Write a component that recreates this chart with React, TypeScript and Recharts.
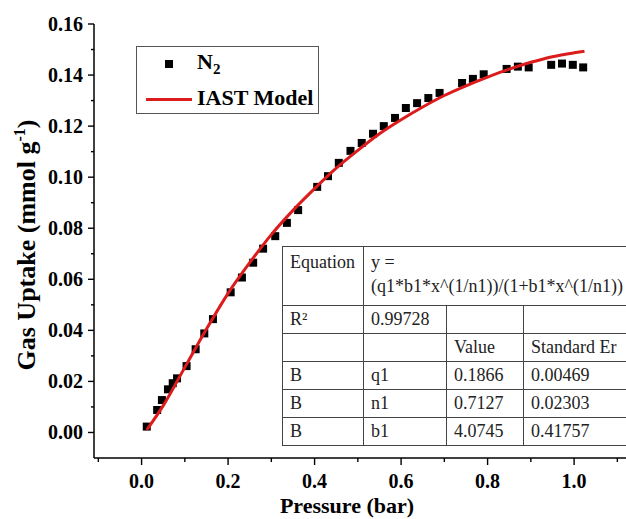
import { ScatterChart, Scatter, XAxis, YAxis, Label } from 'recharts'

// N2 isotherm points (pressure in bar, uptake in mmol/g)
const pressure = [
  0.012, 0.036, 0.047, 0.061, 0.072, 0.082, 0.104, 0.125, 0.145, 0.165,
  0.206, 0.232, 0.258, 0.281, 0.309, 0.336, 0.362, 0.406, 0.431, 0.456,
  0.483, 0.509, 0.535, 0.56, 0.586, 0.611, 0.637, 0.663, 0.689, 0.741,
  0.766, 0.791, 0.844, 0.87, 0.895, 0.947, 0.972, 0.997, 1.021,
]
const uptake = [
  0.0023, 0.0088, 0.0127, 0.0169, 0.0193, 0.0212, 0.026, 0.0326, 0.0388, 0.0444,
  0.0549, 0.0607, 0.0665, 0.072, 0.0769, 0.0821, 0.0871, 0.0962, 0.1004, 0.1056,
  0.1103, 0.1134, 0.117, 0.12, 0.1232, 0.1271, 0.129, 0.131, 0.133, 0.1369,
  0.1385, 0.1403, 0.1424, 0.1433, 0.143, 0.144, 0.1445, 0.144, 0.143,
]

// IAST model curve
const modelPressure = [
  0.012, 0.05, 0.1, 0.15, 0.2, 0.25, 0.3, 0.35, 0.4, 0.45, 0.5, 0.55,
  0.6, 0.65, 0.7, 0.75, 0.8, 0.85, 0.9, 0.95, 1.0, 1.024,
]
const modelUptake = [
  0.001, 0.0105, 0.0255, 0.0405, 0.0545, 0.0665, 0.0775, 0.087, 0.0955, 0.1035, 0.1105, 0.117,
  0.1225, 0.1275, 0.132, 0.1358, 0.1392, 0.1423, 0.145, 0.1472, 0.1487, 0.1493,
]

const xTicks = [-0.1, 0, 0.1, 0.2, 0.3, 0.4, 0.5, 0.6, 0.7, 0.8, 0.9, 1.0, 1.1]
const xLabels = [0, 0.2, 0.4, 0.6, 0.8, 1.0]
const yTicks = [0, 0.01, 0.02, 0.03, 0.04, 0.05, 0.06, 0.07, 0.08, 0.09, 0.1, 0.11, 0.12, 0.13, 0.14, 0.15, 0.16]
const yLabels = [0, 0.02, 0.04, 0.06, 0.08, 0.1, 0.12, 0.14, 0.16]

const fitRows = [
  ['B', 'q1', '0.1866', '0.00469'],
  ['B', 'n1', '0.7127', '0.02303'],
  ['B', 'b1', '4.0745', '0.41757'],
]

const n2Data = pressure.map((p, i) => ({ x: p, y: uptake[i] }))
const modelData = modelPressure.map((p, i) => ({ x: p, y: modelUptake[i] }))

const serif = '"Liberation Serif", "Times New Roman", serif'
const isIn = (list: number[], v: number) => list.some((m) => Math.abs(m - v) < 1e-6)

function XTick({ x, y, payload }: any) {
  const major = isIn(xLabels, payload.value)
  return (
    <g>
      <line x1={x} x2={x} y1={y} y2={y + (major ? 7 : 4)} stroke="#000" strokeWidth={1.4} />
      {major && (
        <text x={x} y={y + 30} textAnchor="middle" fontFamily={serif} fontWeight="bold" fontSize={20} fill="#000">
          {payload.value.toFixed(1)}
        </text>
      )}
    </g>
  )
}

function YTick({ x, y, payload }: any) {
  const major = isIn(yLabels, payload.value)
  return (
    <g>
      <line x1={x} x2={x - (major ? 6 : 3)} y1={y} y2={y} stroke="#000" strokeWidth={1.4} />
      {major && (
        <text x={x - 11} y={y + 7} textAnchor="end" fontFamily={serif} fontWeight="bold" fontSize={20} fill="#000">
          {payload.value.toFixed(2)}
        </text>
      )}
    </g>
  )
}

const XTitle = () => (
  <text x={347} y={513} textAnchor="middle" fontFamily={serif} fontWeight="bold" fontSize={22} fill="#000">
    Pressure (bar)
  </text>
)

const YTitle = () => (
  <text
    x={35}
    y={245}
    transform="rotate(-90 35 245)"
    textAnchor="middle"
    fontFamily={serif}
    fontWeight="bold"
    fontSize={26}
    fill="#000"
  >
    Gas Uptake (mmol g<tspan dy={-10} fontSize={16}>-1</tspan>
    <tspan dy={10}>)</tspan>
  </text>
)

const cell: React.CSSProperties = {
  border: '1px solid #444',
  padding: '0 0 0 7px',
  height: 27,
  whiteSpace: 'nowrap',
  overflow: 'hidden',
  textAlign: 'left',
}

export default function App() {
  return (
    <div style={{ position: 'absolute', left: 0, top: 0, width: 626, height: 519, background: '#fff', overflow: 'hidden' }}>
      <ScatterChart width={626} height={519} margin={{ top: 24, right: 0, bottom: 0, left: 0 }}>
        <XAxis
          type="number"
          dataKey="x"
          domain={[-0.11, 1.12]}
          ticks={xTicks}
          interval={0}
          height={61}
          tickSize={0}
          tickMargin={0}
          tick={<XTick />}
          axisLine={{ stroke: '#000', strokeWidth: 1.5 }}
          allowDataOverflow
        >
          <Label content={XTitle} />
        </XAxis>
        <YAxis
          type="number"
          dataKey="y"
          domain={[-0.01, 0.16]}
          ticks={yTicks}
          interval={0}
          width={94}
          tickSize={0}
          tickMargin={0}
          tick={<YTick />}
          axisLine={{ stroke: '#000', strokeWidth: 1.5 }}
          allowDataOverflow
        >
          <Label content={YTitle} />
        </YAxis>
        <Scatter data={n2Data} shape="square" fill="#000" isAnimationActive={false} />
        <Scatter
          data={modelData}
          line={{ stroke: '#dc1c1c', strokeWidth: 3 }}
          lineJointType="monotoneX"
          shape={() => <g />}
          isAnimationActive={false}
        />
      </ScatterChart>

      {/* legend box */}
      <div
        style={{
          position: 'absolute',
          left: 136,
          top: 46,
          width: 181,
          height: 66,
          border: '1px solid #555',
          fontFamily: serif,
          fontWeight: 'bold',
          fontSize: 22,
          color: '#000',
        }}
      >
        <div style={{ position: 'absolute', left: 28, top: 13, width: 8, height: 8, background: '#000' }} />
        <div style={{ position: 'absolute', left: 60, top: 2, lineHeight: '26px' }}>
          N<sub style={{ fontSize: 15, verticalAlign: -5 }}>2</sub>
        </div>
        <div style={{ position: 'absolute', left: 9, top: 51, width: 46, height: 3, background: '#dc1c1c' }} />
        <div style={{ position: 'absolute', left: 60, top: 38, lineHeight: '26px' }}>IAST Model</div>
      </div>

      {/* fit results table */}
      <table
        style={{
          position: 'absolute',
          left: 282,
          top: 246,
          width: 344,
          borderCollapse: 'collapse',
          tableLayout: 'fixed',
          fontFamily: serif,
          fontSize: 18,
          color: '#222',
          background: '#fff',
        }}
      >
        <colgroup>
          <col style={{ width: 81 }} />
          <col style={{ width: 83 }} />
          <col style={{ width: 77 }} />
          <col style={{ width: 103 }} />
        </colgroup>
        <tbody>
          <tr>
            <td style={{ ...cell, height: 55, verticalAlign: 'top', paddingTop: 3, lineHeight: '24px' }}>Equation</td>
            <td colSpan={3} style={{ ...cell, height: 55, verticalAlign: 'top', paddingTop: 3, lineHeight: '24px' }}>
              y =<br />
              (q1*b1*x^(1/n1))/(1+b1*x^(1/n1))
            </td>
          </tr>
          <tr>
            <td style={cell}>R²</td>
            <td style={cell}>0.99728</td>
            <td style={cell}></td>
            <td style={cell}></td>
          </tr>
          <tr>
            <td style={cell}></td>
            <td style={cell}></td>
            <td style={cell}>Value</td>
            <td style={cell}>Standard Er</td>
          </tr>
          {fitRows.map((r) => (
            <tr key={r[1]}>
              {r.map((c, j) => (
                <td key={j} style={cell}>
                  {c}
                </td>
              ))}
            </tr>
          ))}
        </tbody>
      </table>
    </div>
  )
}
